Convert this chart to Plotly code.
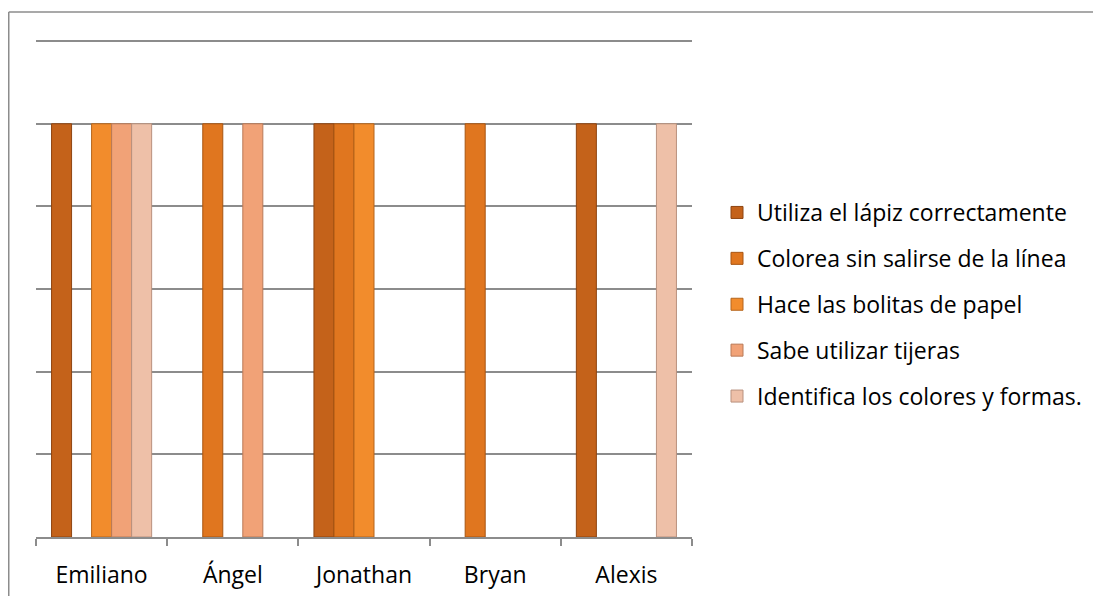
import plotly.graph_objects as go

categories = ["Emiliano", "Ángel", "Jonathan", "Bryan", "Alexis"]
series_names = [
    "Utiliza el lápiz correctamente",
    "Colorea sin salirse de la línea",
    "Hace las bolitas de papel",
    "Sabe utilizar tijeras",
    "Identifica los colores y formas.",
]
s1_values = [1, None, 1, None, 1]
s2_values = [None, 1, 1, 1, None]
s3_values = [1, None, 1, None, None]
s4_values = [1, 1, None, None, None]
s5_values = [1, None, None, None, 1]
series_values = [s1_values, s2_values, s3_values, s4_values, s5_values]

fill_colors = ["#C4621A", "#E0761F", "#F28C2C", "#F1A277", "#EEC0A8"]
line_colors = ["#8E4410", "#A85512", "#B5651C", "#B97A58", "#B9917E"]

FONT = "Open Sans"
GRID = "#8C8C8C"
YMAX = 1.21

fig = go.Figure()
for i, (name, vals) in enumerate(zip(series_names, series_values)):
    fig.add_trace(go.Bar(
        x=categories, y=vals, name=name,
        marker=dict(color=fill_colors[i], line=dict(color=line_colors[i], width=1)),
        legendgroup=f"g{i}",
    ))

OFF = 8  # page body margin
W, H = 1101 - OFF, 596 - OFF
plot_left, plot_right, plot_bottom = 36, 692, 537
plot_top = plot_bottom - (537 - 41) * YMAX / 1.2
L = plot_left - OFF
T = int(round(plot_top - OFF))
R = W - (plot_right - OFF)
B = H - (plot_bottom - OFF)
pw, ph = W - L - R, H - T - B

def px_x(x):
    return (x - OFF - L) / pw

def px_y(y):
    return (H - B - (y - OFF)) / ph

fig.update_layout(
    width=W, height=H,
    margin=dict(l=L, r=R, t=T, b=B, pad=0, autoexpand=False),
    paper_bgcolor="white", plot_bgcolor="white",
    barmode="group", bargap=0.237, bargroupgap=0,
    font=dict(family=FONT, size=23, color="#000000"),
    showlegend=True,
    legend=dict(
        x=px_x(717), y=px_y(191), xanchor="left", yanchor="top",
        font=dict(family=FONT, size=23, color="#000000"),
        traceorder="grouped", tracegroupgap=13,
        bgcolor="rgba(0,0,0,0)",
    ),
    xaxis=dict(
        showline=True, linecolor=GRID, linewidth=1.5,
        ticks="outside", ticklen=7, tickcolor=GRID, tickwidth=1.5,
        tickson="boundaries", showgrid=False, automargin=False,
        tickfont=dict(family=FONT, size=23, color="#000000"),
        ticklabelstandoff=17,
    ),
    yaxis=dict(
        range=[0, YMAX], dtick=0.2, showticklabels=False,
        showgrid=True, gridcolor=GRID, gridwidth=1.5,
        zeroline=False, showline=False, ticks="", automargin=False,
    ),
    shapes=[
        dict(type="line", xref="paper", yref="paper",
             x0=px_x(8.75), x1=px_x(1110), y0=px_y(12), y1=px_y(12),
             line=dict(color=GRID, width=1.5)),
        dict(type="line", xref="paper", yref="paper",
             x0=px_x(8.75), x1=px_x(8.75), y0=px_y(12), y1=px_y(605),
             line=dict(color=GRID, width=1.5)),
    ],
)

fig.write_html("out.html")
